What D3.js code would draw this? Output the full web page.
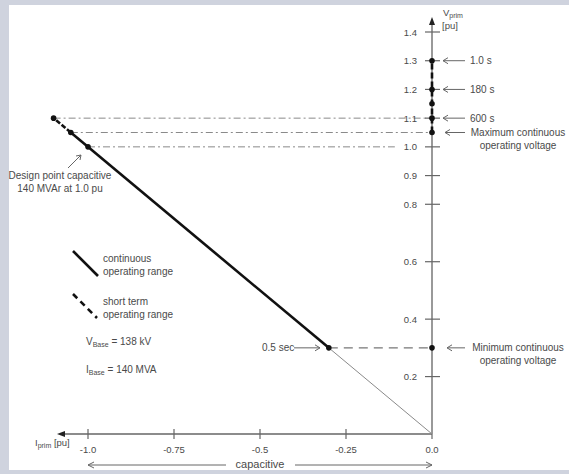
<!DOCTYPE html>
<html>
<head>
<meta charset="utf-8">
<script src="https://cdn.jsdelivr.net/npm/d3@7"></script>
<style>
  html, body { margin: 0; padding: 0; background: #cfd3de; }
  svg { display: block; }
  text { font-family: "Liberation Sans", Arial, sans-serif; fill: #4a4a4a; }
</style>
</head>
<body>
<svg id="chart" width="569" height="474"></svg>
<script>
// Current axis (capacitive side) and voltage axis ticks
const xTicks = [-1.0, -0.75, -0.5, -0.25, 0.0];
const xTickLabels = ["-1.0", "-0.75", "-0.5", "-0.25", "0.0"];
const yTicks = [1.4, 1.3, 1.2, 1.1, 1.0, 0.9, 0.8, 0.6, 0.4, 0.2];
const yTickLabels = ["1.4", "1.3", "1.2", "1.1", "1.0", "0.9", "0.8", "0.6", "0.4", "0.2"];

// V-I characteristic segments [I, V] in pu
const belowMinSegment = [[0.0, 0.0], [-0.3, 0.3]];
const continuousSegment = [[-0.3, 0.3], [-1.05, 1.05]];
const shortTermSegment = [[-1.05, 1.05], [-1.1, 1.1]];
const curvePoints = [[-1.1, 1.1], [-1.05, 1.05], [-1.0, 1.0], [-0.3, 0.3]];

// Voltage levels marked on the voltage axis
const axisPoints = [1.3, 1.2, 1.15, 1.1, 1.05, 0.3];
const shortTermAxisRange = [1.05, 1.3];
const timeLevels = [1.3, 1.2, 1.1];
const timeLabels = ["1.0 s", "180 s", "600 s"];
const maxContinuous = 1.05;
const minContinuous = 0.3;
const refLevels = [1.1, 1.05, 1.0];
const refLevelEnds = [0.0, 0.0, -0.108];

const svg = d3.select("#chart");
svg.append("rect").attr("x", 9).attr("y", 5).attr("width", 560).attr("height", 465).attr("fill", "#ffffff");

const x = d3.scaleLinear().domain([-1, 0]).range([88, 432]);
const y = d3.scaleLinear().domain([0, 1.4]).range([434, 32]);
const line = d3.line().x(d => x(d[0])).y(d => y(d[1]));

// horizontal reference lines (dash-dot)
refLevels.forEach((v, i) => {
  svg.append("line")
    .attr("x1", x(-v)).attr("x2", x(refLevelEnds[i]))
    .attr("y1", y(v)).attr("y2", y(v))
    .attr("stroke", "#8a8a8a").attr("stroke-width", 1)
    .attr("stroke-dasharray", "7,3,2,3");
});

// minimum continuous voltage line (dashed)
svg.append("line")
  .attr("x1", x(-minContinuous)).attr("x2", x(0))
  .attr("y1", y(minContinuous)).attr("y2", y(minContinuous))
  .attr("stroke", "#777").attr("stroke-width", 1.2)
  .attr("stroke-dasharray", "9,6");

// x axis with arrow
svg.append("line").attr("x1", 60).attr("x2", x(0)).attr("y1", y(0)).attr("y2", y(0))
  .attr("stroke", "#666").attr("stroke-width", 1.3);
svg.append("path").attr("d", `M57,${y(0)} L65,${y(0) - 3} L65,${y(0) + 3} Z`).attr("fill", "#222");
xTicks.forEach((t, i) => {
  svg.append("line").attr("x1", x(t)).attr("x2", x(t)).attr("y1", y(0) - 5).attr("y2", y(0) + 5)
    .attr("stroke", "#666").attr("stroke-width", 1.2);
  svg.append("text").attr("x", x(t)).attr("y", 453).attr("text-anchor", "middle")
    .attr("font-size", 9.5).text(xTickLabels[i]);
});
const xl = svg.append("text").attr("x", 35).attr("y", 446).attr("font-size", 9.5);
xl.append("tspan").text("I");
xl.append("tspan").attr("font-size", 7).attr("dy", 1.5).text("prim");
xl.append("tspan").attr("dy", -1.5).text(" [pu]");

// capacitive arrow
svg.append("line").attr("x1", x(-1)).attr("x2", 226).attr("y1", 465).attr("y2", 465).attr("stroke", "#666").attr("stroke-width", 1);
svg.append("line").attr("x1", 295).attr("x2", x(0)).attr("y1", 465).attr("y2", 465).attr("stroke", "#666").attr("stroke-width", 1);
svg.append("path").attr("d", `M${x(-1) + 6},462 L${x(-1)},465 L${x(-1) + 6},468`).attr("fill", "none").attr("stroke", "#666");
svg.append("path").attr("d", `M${x(0) - 6},462 L${x(0)},465 L${x(0) - 6},468`).attr("fill", "none").attr("stroke", "#666");
svg.append("text").attr("x", 260).attr("y", 468).attr("text-anchor", "middle").attr("font-size", 11).text("capacitive");

// y axis with arrow
svg.append("line").attr("x1", x(0)).attr("x2", x(0)).attr("y1", y(0)).attr("y2", 22)
  .attr("stroke", "#999").attr("stroke-width", 2);
svg.append("path").attr("d", `M${x(0)},17 L${x(0) - 3},25 L${x(0) + 3},25 Z`).attr("fill", "#222");
yTicks.forEach((t, i) => {
  svg.append("line").attr("x1", x(0) - 7).attr("x2", x(0) + 8).attr("y1", y(t)).attr("y2", y(t))
    .attr("stroke", "#666").attr("stroke-width", 1.2);
  svg.append("text").attr("x", 417).attr("y", y(t) + 3.5).attr("text-anchor", "end")
    .attr("font-size", 9.5).text(yTickLabels[i]);
});
const yl = svg.append("text").attr("x", 443).attr("y", 16).attr("font-size", 9.5);
yl.append("tspan").text("V");
yl.append("tspan").attr("font-size", 7).attr("dy", 1.5).text("prim");
svg.append("text").attr("x", 442).attr("y", 29).attr("font-size", 9.5).text("[pu]");

// short-term range along the voltage axis
svg.append("line").attr("x1", x(0)).attr("x2", x(0))
  .attr("y1", y(shortTermAxisRange[0])).attr("y2", y(shortTermAxisRange[1]))
  .attr("stroke", "#111").attr("stroke-width", 2.6).attr("stroke-dasharray", "6,3");

// V-I characteristic
svg.append("path").attr("d", line(belowMinSegment)).attr("stroke", "#8a8a8a").attr("stroke-width", 1).attr("fill", "none");
svg.append("path").attr("d", line(continuousSegment)).attr("stroke", "#111").attr("stroke-width", 2.6).attr("fill", "none");
svg.append("path").attr("d", line(shortTermSegment)).attr("stroke", "#111").attr("stroke-width", 2.6)
  .attr("stroke-dasharray", "5,2").attr("fill", "none");

svg.selectAll(".cp").data(curvePoints).enter().append("circle")
  .attr("cx", d => x(d[0])).attr("cy", d => y(d[1])).attr("r", 2.8).attr("fill", "#111");
svg.selectAll(".ap").data(axisPoints).enter().append("circle")
  .attr("cx", x(0)).attr("cy", d => y(d)).attr("r", 2.8).attr("fill", "#111");

// left-pointing annotation arrows
function leftArrow(x1, x2, yy) {
  svg.append("line").attr("x1", x1).attr("x2", x2).attr("y1", yy).attr("y2", yy).attr("stroke", "#666").attr("stroke-width", 1);
  svg.append("path").attr("d", `M${x1 + 5},${yy - 3} L${x1},${yy} L${x1 + 5},${yy + 3}`).attr("fill", "none").attr("stroke", "#666");
}
timeLevels.forEach((v, i) => {
  leftArrow(443, 465, y(v));
  svg.append("text").attr("x", 470).attr("y", y(v) + 3.5).attr("font-size", 10).text(timeLabels[i]);
});
leftArrow(445, 465, y(maxContinuous));
svg.append("text").attr("x", 518).attr("y", y(maxContinuous) + 3.5).attr("text-anchor", "middle").attr("font-size", 10).text("Maximum continuous");
svg.append("text").attr("x", 518).attr("y", y(maxContinuous) + 16.5).attr("text-anchor", "middle").attr("font-size", 10).text("operating voltage");
leftArrow(447, 465, y(minContinuous));
svg.append("text").attr("x", 518).attr("y", y(minContinuous) + 3.5).attr("text-anchor", "middle").attr("font-size", 10).text("Minimum continuous");
svg.append("text").attr("x", 518).attr("y", y(minContinuous) + 16.5).attr("text-anchor", "middle").attr("font-size", 10).text("operating voltage");

// 0.5 sec marker
svg.append("text").attr("x", 262).attr("y", y(minContinuous) + 3.5).attr("font-size", 10).text("0.5 sec");
svg.append("line").attr("x1", 294).attr("x2", 320).attr("y1", y(minContinuous)).attr("y2", y(minContinuous)).attr("stroke", "#666");
svg.append("path").attr("d", `M315,${y(minContinuous) - 3} L320,${y(minContinuous)} L315,${y(minContinuous) + 3}`).attr("fill", "none").attr("stroke", "#666");

// design point annotation
svg.append("line").attr("x1", 68).attr("y1", 168).attr("x2", 81).attr("y2", 155).attr("stroke", "#666");
svg.append("path").attr("d", "M76,156 L81,155 L80,160").attr("fill", "none").attr("stroke", "#666");
svg.append("text").attr("x", 60).attr("y", 179).attr("text-anchor", "middle").attr("font-size", 10).text("Design point capacitive");
svg.append("text").attr("x", 60).attr("y", 192).attr("text-anchor", "middle").attr("font-size", 10).text("140 MVAr at 1.0 pu");

// legend
svg.append("line").attr("x1", 73).attr("y1", 251).attr("x2", 98).attr("y2", 276).attr("stroke", "#111").attr("stroke-width", 2.6);
svg.append("text").attr("x", 103).attr("y", 262).attr("font-size", 10).text("continuous");
svg.append("text").attr("x", 103).attr("y", 275).attr("font-size", 10).text("operating range");
svg.append("line").attr("x1", 73).attr("y1", 294).attr("x2", 97).attr("y2", 318).attr("stroke", "#111").attr("stroke-width", 2.6).attr("stroke-dasharray", "6,4.5");
svg.append("text").attr("x", 103).attr("y", 305).attr("font-size", 10).text("short term");
svg.append("text").attr("x", 103).attr("y", 318).attr("font-size", 10).text("operating range");

const vb = svg.append("text").attr("x", 86).attr("y", 345).attr("font-size", 10);
vb.append("tspan").text("V");
vb.append("tspan").attr("font-size", 7).attr("dy", 1.5).text("Base");
vb.append("tspan").attr("dy", -1.5).text(" = 138 kV");
const ib = svg.append("text").attr("x", 86).attr("y", 373).attr("font-size", 10);
ib.append("tspan").text("I");
ib.append("tspan").attr("font-size", 7).attr("dy", 1.5).text("Base");
ib.append("tspan").attr("dy", -1.5).text(" = 140 MVA");
</script>
</body>
</html>
